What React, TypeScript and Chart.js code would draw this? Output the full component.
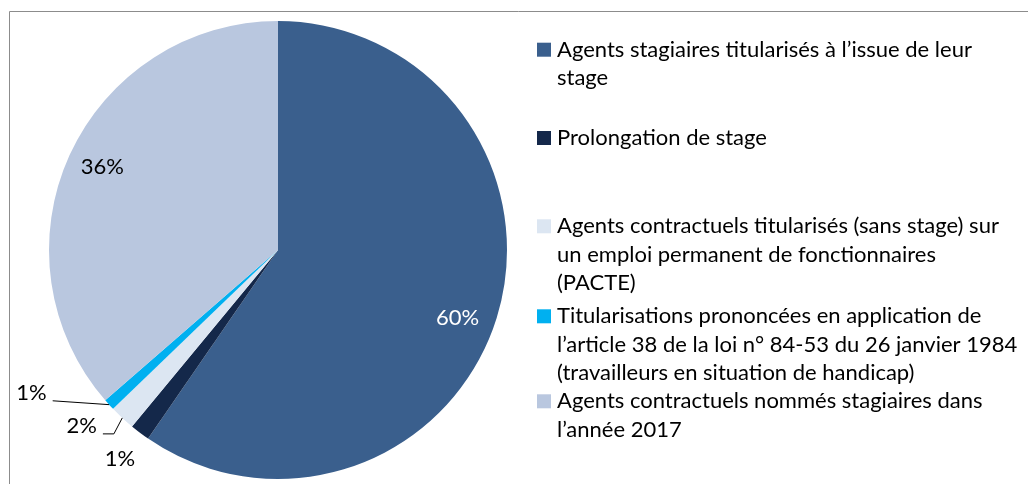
import React, { useEffect, useRef } from "react";
import { Chart, registerables } from "chart.js";

Chart.register(...registerables);

const categories = [
  "Agents stagiaires titularisés à l’issue de leur\nstage",
  "Prolongation de stage",
  "Agents contractuels titularisés (sans stage) sur\nun emploi permanent de fonctionnaires\n(PACTE)",
  "Titularisations prononcées en application de\nl’article 38 de la loi n° 84-53 du 26 janvier 1984\n(travailleurs en situation de handicap)",
  "Agents contractuels nommés stagiaires dans\nl’année 2017",
];
const values = [59.6, 1.4, 1.8, 0.8, 36.4];
const colors = ["#3A5F8D", "#14284A", "#DCE6F2", "#00B0F0", "#B9C7DF"];
const valueLabelColors = ["#FFFFFF", "#000000", "#000000", "#000000", "#000000"];

// label placement styles
const labelAngleShiftDeg = [3.4, 0, 5.3, 12.4, 0.9];
const labelRadiusFactor = [0.838, 1.145, 1.151, 1.244, 0.849];
const hasLeader = [false, false, true, true, false];
const leaderElbow = [0, 0, 11, 0, 0];

const FONT = "Lato, 'Open Sans', sans-serif";
const LEGEND_BASELINES = [56.7, 145, 233.3, 323.3, 408.3];
const LEGEND_LINE_H = 28.33;

const overlayPlugin = {
  id: "overlay",
  beforeDraw(chart: any) {
    const ctx = chart.ctx;
    ctx.save();
    ctx.strokeStyle = "#8C8C8C";
    ctx.lineWidth = 1;
    ctx.beginPath();
    ctx.moveTo(9.5, chart.height);
    ctx.lineTo(9.5, 11.5);
    ctx.lineTo(chart.width, 11.5);
    ctx.stroke();
    ctx.restore();
  },
  afterDraw(chart: any) {
    const ctx = chart.ctx;
    const meta = chart.getDatasetMeta(0);
    ctx.save();
    ctx.font = `22px ${FONT}`;
    ctx.textAlign = "center";
    ctx.textBaseline = "middle";
    meta.data.forEach((arc: any, i: number) => {
      const p = arc.getProps(["x", "y", "startAngle", "endAngle", "outerRadius"], true);
      const mid = (p.startAngle + p.endAngle) / 2;
      const a = mid + (labelAngleShiftDeg[i] * Math.PI) / 180;
      const r = p.outerRadius * labelRadiusFactor[i];
      const lx = p.x + Math.cos(a) * r;
      const ly = p.y + Math.sin(a) * r;
      const txt = Math.round(values[i]) + "%";
      ctx.fillStyle = valueLabelColors[i];
      ctx.fillText(txt, lx, ly);
      if (hasLeader[i]) {
        const w = ctx.measureText(txt).width;
        const sx = p.x + Math.cos(mid) * p.outerRadius;
        const sy = p.y + Math.sin(mid) * p.outerRadius;
        const ex = lx + w / 2 + 6;
        const ey = ly + 8;
        ctx.strokeStyle = "#000000";
        ctx.lineWidth = 1;
        ctx.beginPath();
        ctx.moveTo(sx, sy);
        ctx.lineTo(ex + leaderElbow[i], ey);
        ctx.lineTo(ex, ey);
        ctx.stroke();
      }
    });

    // legend
    ctx.textAlign = "left";
    ctx.textBaseline = "alphabetic";
    ctx.font = `22px ${FONT}`;
    categories.forEach((label, i) => {
      const base = LEGEND_BASELINES[i];
      ctx.fillStyle = colors[i];
      ctx.fillRect(537, base - 14, 14, 14);
      ctx.fillStyle = "#000000";
      label.split("\n").forEach((line, j) => {
        ctx.fillText(line, 557, base + j * LEGEND_LINE_H);
      });
    });
    ctx.restore();
  },
};

export default function App() {
  const ref = useRef<HTMLCanvasElement>(null);
  useEffect(() => {
    if (!ref.current) return;
    const chart = new Chart(ref.current, {
      type: "pie",
      data: {
        labels: categories,
        datasets: [
          {
            data: values,
            backgroundColor: colors,
            borderWidth: 0,
          },
        ],
      },
      options: {
        responsive: false,
        maintainAspectRatio: false,
        animation: false,
        layout: { padding: { left: 49, top: 21, right: 521, bottom: 5 } },
        plugins: {
          legend: { display: false },
          tooltip: { enabled: false },
        },
      },
      plugins: [overlayPlugin],
    });
    return () => chart.destroy();
  }, []);
  return (
    <div style={{ position: "absolute", left: 0, top: 0, width: 1028, height: 484, background: "#FFFFFF" }}>
      <canvas ref={ref} width={1028} height={484} style={{ display: "block" }} />
    </div>
  );
}
